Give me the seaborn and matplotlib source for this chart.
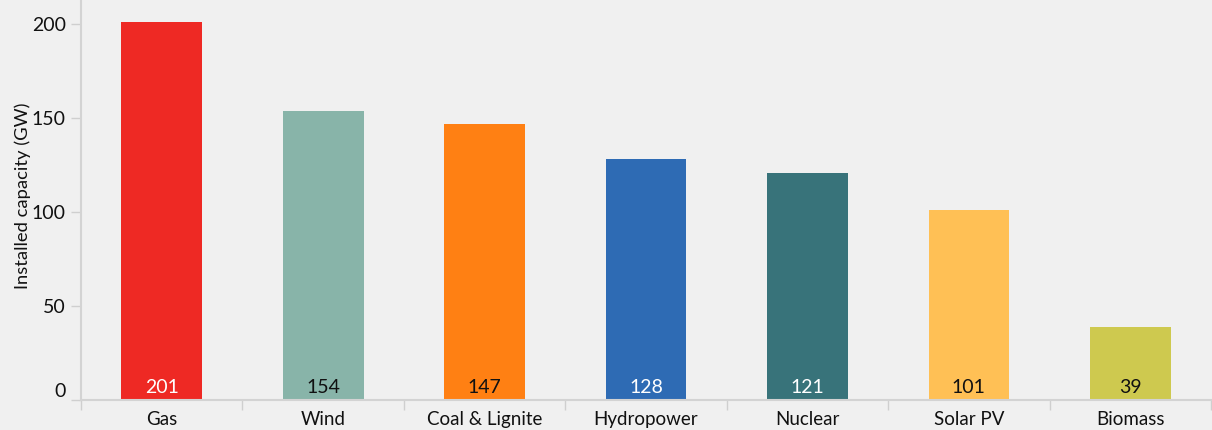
import matplotlib
matplotlib.use("Agg")
import matplotlib.pyplot as plt
import seaborn as sns
import pandas as pd
import numpy as np

categories = ["Gas", "Wind", "Coal & Lignite", "Hydropower", "Nuclear", "Solar PV", "Biomass"]
values = [201, 154, 147, 128, 121, 101, 39]
colors = ["#EE2924", "#88B4A9", "#FF8013", "#2E6BB4", "#38737A", "#FFC055", "#CEC94F"]
label_colors = ["white", "#111111", "#111111", "white", "white", "#111111", "#111111"]
y_ticks = [0, 50, 100, 150, 200]

sns.set_theme(style="white")
plt.rcParams["font.family"] = ["Lato", "DejaVu Sans"]

df = pd.DataFrame({"category": categories, "value": values})

fig = plt.figure(figsize=(12.12, 4.30), dpi=100)
fig.patch.set_facecolor("#F0F0F0")
ax = fig.add_axes([81/1212, 1 - 400/430, (1211 - 81)/1212, 400/430])
ax.set_facecolor("#F0F0F0")

sns.barplot(data=df, x="category", y="value", hue="category", palette=colors,
            width=0.5, legend=False, ax=ax, saturation=1, edgecolor="none")

ax.set_xlim(-0.5, len(categories) - 0.5)
ax.set_ylim(0, 399 / 1.875)
ax.set_yticks(y_ticks)
ax.set_yticklabels([str(t) for t in y_ticks])
for lbl in ax.get_yticklabels():
    if lbl.get_text() == "0":
        lbl.set_verticalalignment("bottom")

ax.set_xticks(range(len(categories)))
ax.set_xticklabels(categories)
ax.set_xticks(np.arange(-0.5, len(categories), 1.0), minor=True)
ax.tick_params(axis="x", which="minor", length=7, width=1, color="#CFCFCF", direction="out")
ax.tick_params(axis="y", which="major", length=7, width=1, color="#CFCFCF", direction="out",
               pad=4, labelsize=14, labelcolor="#111111")
ax.tick_params(bottom=True, left=True, which="both")
ax.tick_params(axis="x", which="major", length=0, pad=8, labelsize=13.5, labelcolor="#111111")

for side in ["top", "right"]:
    ax.spines[side].set_visible(False)
for side in ["left", "bottom"]:
    ax.spines[side].set_color("#D3D3D3")
    ax.spines[side].set_linewidth(1.5)

ax.set_xlabel("")
ax.set_ylabel("Installed capacity (GW)", fontsize=13.2, color="#111111")
ax.yaxis.set_label_coords(-0.044, 0.51)

for i, (v, c) in enumerate(zip(values, label_colors)):
    ax.annotate(str(v), xy=(i, 0), xytext=(0, 7), textcoords="offset pixels",
                ha="center", va="baseline", color=c, fontsize=14)

fig.savefig("out.png", dpi=100, facecolor=fig.get_facecolor())
